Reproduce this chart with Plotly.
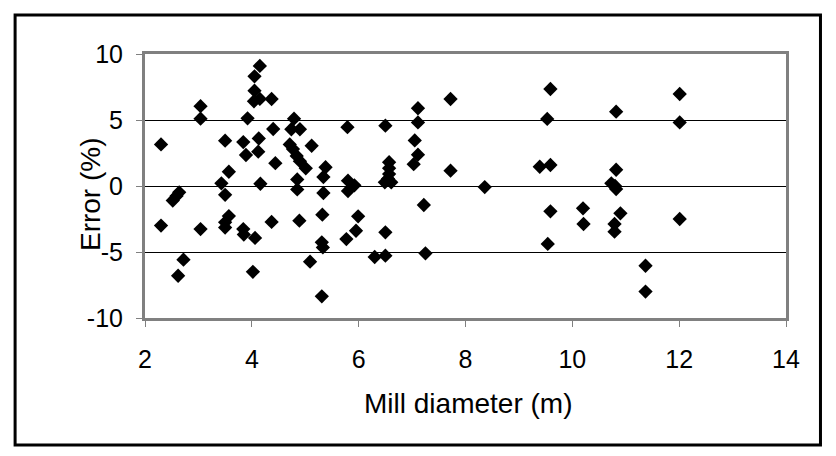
import plotly.graph_objects as go

mill_diameter = [
    2.30, 2.30, 2.52, 2.59, 2.64, 2.72, 2.62,
    3.04, 3.04, 3.04, 3.43, 3.50, 3.50, 3.57, 3.57, 3.50, 3.50,
    3.84, 3.89, 3.92, 3.84, 3.85, 4.06, 4.02,
    4.15, 4.05, 4.05, 4.04, 4.15, 4.37, 4.13, 4.12, 4.16, 4.37, 4.40, 4.44,
    4.79, 4.74, 4.90, 4.71, 4.77, 4.84, 4.90, 5.01, 4.85, 4.85, 4.89,
    5.12, 5.09, 5.38, 5.34, 5.34, 5.32, 5.31, 5.33, 5.31,
    5.79, 5.80, 5.92, 5.80, 5.99, 5.95, 5.77,
    6.30, 6.50, 6.50, 6.50, 6.57, 6.57, 6.57, 6.55, 6.49, 6.61,
    7.05, 7.11, 7.11, 7.11, 7.03, 7.22, 7.25,
    7.72, 7.72, 8.36,
    9.39, 9.59, 9.59, 9.53, 9.59, 9.54,
    10.20, 10.21, 10.82, 10.82, 10.73, 10.80, 10.82, 10.90, 10.79, 10.79,
    11.37, 11.37, 12.01, 12.01, 12.01,
]
error_pct = [
    3.15, -3.0, -1.1, -0.75, -0.48, -5.58, -6.8,
    6.05, 5.1, -3.26, 0.2, 3.43, -0.67, 1.08, -2.28, -2.75, -3.15,
    3.33, 2.35, 5.13, -3.26, -3.68, -3.93, -6.5,
    9.1, 8.31, 7.22, 6.42, 6.6, 6.59, 3.6, 2.6, 0.17, -2.72, 4.32, 1.73,
    5.1, 4.3, 4.3, 3.15, 2.8, 2.28, 1.88, 1.34, 0.5, -0.26, -2.63,
    3.05, -5.73, 1.42, 0.68, -0.53, -2.17, -4.27, -4.65, -8.36,
    4.46, 0.40, 0.05, -0.38, -2.3, -3.39, -4.02,
    -5.38, -5.28, -3.51, 4.57, 1.8, 1.35, 0.9, 0.55, 0.28, 0.28,
    3.45, 5.89, 4.82, 2.37, 1.65, -1.44, -5.10,
    6.59, 1.16, -0.08,
    1.46, 1.59, 7.35, 5.08, -1.92, -4.39,
    -1.69, -2.88, 5.63, 1.23, 0.2, 0.0, -0.23, -2.07, -2.88, -3.46,
    -6.04, -8.0, 6.97, 4.82, -2.5,
]

x_ticks = [2, 4, 6, 8, 10, 12, 14]
y_ticks = [-10, -5, 0, 5, 10]
x_title = "Mill diameter (m)"
y_title = "Error (%)"

W, H = 836, 456
L, R, T, B = 145, 49.5, 54, 138
pw, ph = W - L - R, H - T - B

def px_x(px):
    return (px - L) / pw

def px_y(py):
    return (H - B - py) / ph

FONT = "Arial, 'Liberation Sans', sans-serif"

fig = go.Figure(go.Scatter(
    x=mill_diameter, y=error_pct, mode="markers",
    marker=dict(symbol="diamond", size=11, color="black", line=dict(width=0)),
    cliponaxis=False,
))

fig.update_layout(
    width=W, height=H,
    margin=dict(l=L, r=R, t=T, b=B, pad=0),
    paper_bgcolor="white", plot_bgcolor="white",
    showlegend=False,
    font=dict(family=FONT, color="black", size=25),
    xaxis=dict(
        range=[2, 14], tickvals=x_ticks, ticktext=[str(v) for v in x_ticks],
        showgrid=False, zeroline=False,
        showline=True, linecolor="#808080", linewidth=3, mirror=True,
        ticks="outside", ticklen=6, tickcolor="#808080", tickwidth=1,
        ticklabelstandoff=11,
        tickfont=dict(size=25, family=FONT, color="black"),
    ),
    yaxis=dict(
        range=[-10, 10], tickvals=y_ticks, ticktext=[str(v) for v in y_ticks],
        showgrid=True, gridcolor="black", gridwidth=1, zeroline=False,
        showline=True, linecolor="#808080", linewidth=3, mirror=True,
        ticks="outside", ticklen=6, tickcolor="#808080", tickwidth=1,
        ticklabelstandoff=8,
        tickfont=dict(size=25, family=FONT, color="black"),
    ),
    annotations=[
        dict(text=x_title, xref="paper", yref="paper", x=px_x(468), y=px_y(403),
             showarrow=False, xanchor="center", yanchor="middle",
             font=dict(size=28, family=FONT, color="black")),
        dict(text=y_title, xref="paper", yref="paper", x=px_x(90), y=px_y(194),
             showarrow=False, xanchor="center", yanchor="middle", textangle=-90,
             font=dict(size=28, family=FONT, color="black")),
    ],
    shapes=[
        dict(type="rect", xref="paper", yref="paper",
             x0=px_x(15), x1=px_x(821), y0=px_y(445), y1=px_y(15),
             line=dict(color="black", width=3), fillcolor="rgba(0,0,0,0)", layer="above"),
    ],
)

fig.write_html("out.html")
